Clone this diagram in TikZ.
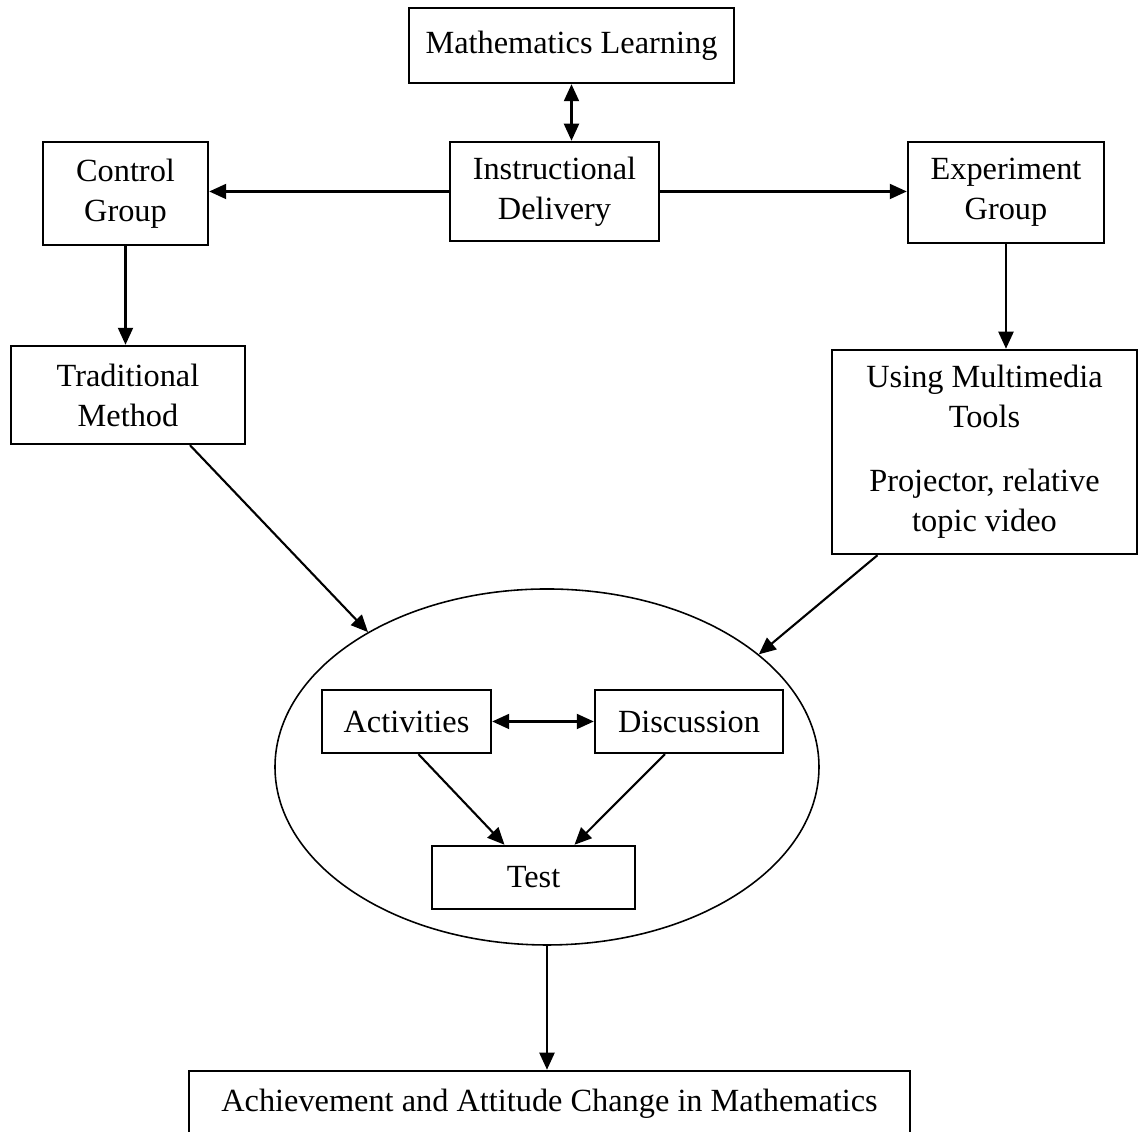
\documentclass[tikz,border=0pt]{standalone}
\usepackage{fontspec}
\setmainfont{Liberation Serif}
\usetikzlibrary{arrows.meta,positioning,shapes.geometric}
\tikzset{
  box/.style={draw, line width=0.7pt, align=center, inner sep=2pt, font=\fontsize{9.2}{11.4}\selectfont},
  link/.style={line width=0.6pt, -{Triangle[length=0.17cm,width=0.15cm]}},
  twoway/.style={line width=0.6pt, {Triangle[length=0.17cm,width=0.15cm]}-{Triangle[length=0.17cm,width=0.15cm]}},
}
\begin{document}
\begin{tikzpicture}
  \useasboundingbox (0,0) rectangle (11.39,11.32);
  % Top row
  \node[box, minimum width=3.25cm, minimum height=0.75cm] (ml) at (5.715,10.865) {Mathematics Learning};
  \node[box, minimum width=2.09cm, minimum height=0.99cm] (id) at (5.545,9.405) {Instructional\\Delivery};
  \node[box, minimum width=1.65cm, minimum height=1.03cm] (cg) at (1.255,9.385) {Control\\Group};
  \node[box, minimum width=1.96cm, minimum height=1.01cm] (eg) at (10.06,9.395) {Experiment\\Group};
  % Methods
  \node[box, minimum width=2.34cm, minimum height=0.98cm] (tm) at (1.28,7.37) {Traditional\\Method};
  \node[box, minimum width=3.05cm, minimum height=2.04cm] (mm) at (9.845,6.80) {Using Multimedia\\Tools\\[0.24cm]Projector, relative\\topic video};
  % Classroom group
  \node[draw, ellipse, line width=0.45pt, minimum width=5.44cm, minimum height=3.56cm, inner sep=0pt] (grp) at (5.47,3.65) {};
  \node[box, minimum width=1.69cm, minimum height=0.63cm] (ac) at (4.065,4.105) {Activities};
  \node[box, minimum width=1.88cm, minimum height=0.63cm] (dc) at (6.89,4.105) {Discussion};
  \node[box, minimum width=2.03cm, minimum height=0.63cm] (ts) at (5.335,2.545) {Test};
  % Outcome
  \node[box, minimum width=7.21cm, minimum height=0.66cm] (ach) at (5.495,0.28) {Achievement and Attitude Change in Mathematics};
  % Connectors
  \draw[twoway] (ml.south) -- (ml.south |- id.north);
  \draw[link] (id.west) -- (id.west -| cg.east);
  \draw[link] (id.east) -- (id.east -| eg.west);
  \draw[link] (cg.south) -- (cg.south |- tm.north);
  \draw[link] (eg.south) -- (eg.south |- mm.north);
  \draw[link] ([xshift=0.62cm]tm.south) -- (grp.143.8);
  \draw[link] ([xshift=-1.07cm]mm.south) -- (grp.28);
  \draw[twoway] (ac.east) -- (dc.west);
  \draw[link] ([xshift=0.12cm]ac.south) -- ([xshift=-0.29cm]ts.north);
  \draw[link] ([xshift=-0.24cm]dc.south) -- ([xshift=0.41cm]ts.north);
  \draw[link] (grp.south) -- (grp.south |- ach.north);
\end{tikzpicture}
\end{document}
